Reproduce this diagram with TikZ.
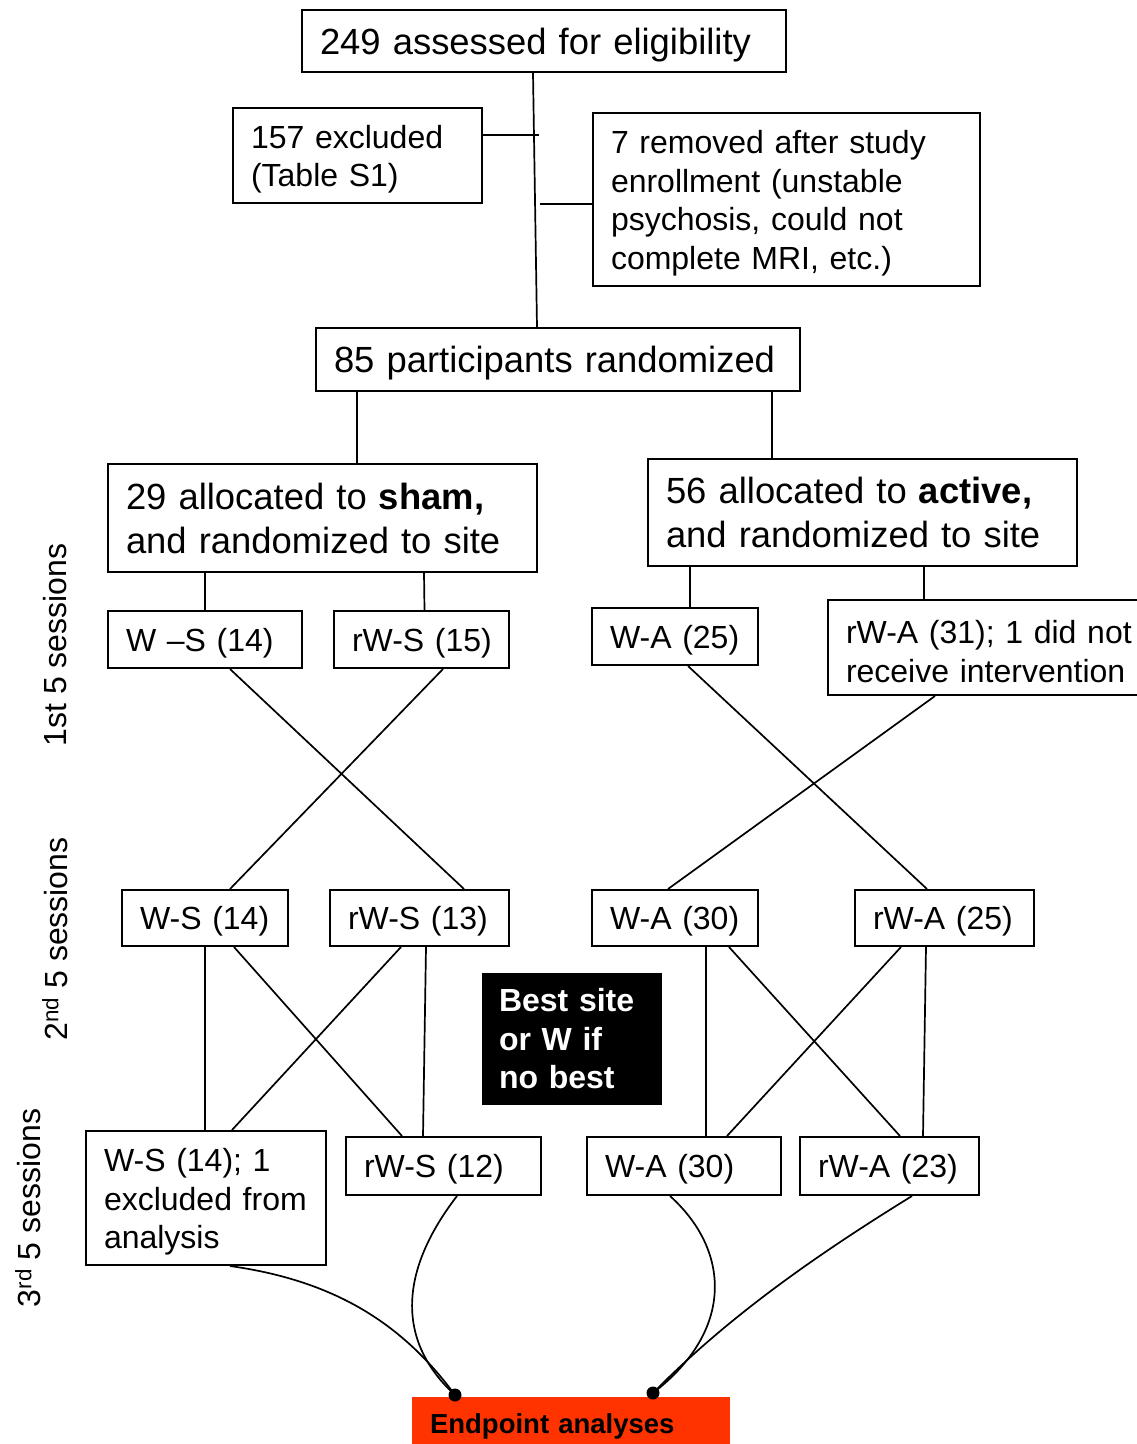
\documentclass[tikz,border=0pt]{standalone}
\usepackage{fontspec}
\setmainfont{Liberation Sans}
\usetikzlibrary{calc}
\definecolor{endred}{HTML}{FF3300}
\newcommand{\topstrut}{\rule{0pt}{31pt}}
\tikzset{
  box/.style={draw=black, line width=2pt, inner ysep=0pt, align=left},
  sline/.style={text depth=0pt},
  bigtxt/.style={font=\fontsize{36.4}{44}\selectfont},
  medtxt/.style={font=\fontsize{32}{38.5}\selectfont},
  link/.style={line width=1.7pt},
  enddot/.style={circle, fill=black, inner sep=0pt, minimum size=13pt},
  sidelabel/.style={rotate=90, font=\fontsize{32}{38}\selectfont, inner sep=0pt},
}
\begin{document}
\begin{tikzpicture}[x=1pt, y=-1pt]
\useasboundingbox (0,0) rectangle (1136,1444);

% top part
\node[box,sline,bigtxt,minimum height=62pt,inner xsep=18pt,text width=448pt] (A) at (544,41) {\mbox{249 assessed for eligibility}};
\node[box,medtxt,minimum height=95pt,inner xsep=18pt,text width=213pt] (B) at (357.5,155.5) {\mbox{\topstrut 157 excluded}\\\mbox{(Table S1)}};
\node[box,medtxt,minimum height=173pt,inner xsep=18pt,text width=351pt] (C) at (786.5,199.5) {\mbox{\topstrut 7 removed after study}\\\mbox{enrollment (unstable}\\\mbox{psychosis, could not}\\\mbox{complete MRI, etc.)}};
\node[box,sline,bigtxt,minimum height=63pt,inner xsep=18pt,text width=448pt] (D) at (558,359.5) {\mbox{85 participants randomized}};

% allocation
\node[box,bigtxt,minimum height=108pt,inner xsep=18pt,text width=393pt] (E) at (322.5,518) {\mbox{29 allocated to \textbf{sham,}}\\\mbox{and randomized to site}};
\node[box,bigtxt,minimum height=107pt,inner xsep=18pt,text width=393pt] (F) at (862.5,512.5) {\mbox{56 allocated to \textbf{active,}}\\\mbox{and randomized to site}};

% first 5 sessions
\node[box,sline,medtxt,minimum height=57pt,inner xsep=18pt,text width=158pt] (G) at (205,639.5) {\mbox{W --S (14)}};
\node[box,sline,medtxt,minimum height=57pt,inner xsep=18pt,text width=139pt] (H) at (421.5,639.5) {\mbox{rW-S (15)}};
\node[box,sline,medtxt,minimum height=57pt,inner xsep=18pt,text width=130pt] (I) at (675,636.5) {\mbox{W-A (25)}};
\node[box,medtxt,minimum height=95pt,inner xsep=18pt,text width=282pt] (J) at (987,647.5) {\mbox{\topstrut rW-A (31); 1 did not}\\\mbox{receive intervention}};

% second 5 sessions
\node[box,sline,medtxt,minimum height=56pt,inner xsep=18pt,text width=130pt] (K) at (205,918) {\mbox{W-S (14)}};
\node[box,sline,medtxt,minimum height=56pt,inner xsep=18pt,text width=143pt] (L) at (419.5,918) {\mbox{rW-S (13)}};
\node[box,sline,medtxt,minimum height=56pt,inner xsep=18pt,text width=130pt] (M) at (675,918) {\mbox{W-A (30)}};
\node[box,sline,medtxt,minimum height=56pt,inner xsep=18pt,text width=143pt] (N) at (944.5,918) {\mbox{rW-A (25)}};

% best site box
\node[fill=black,text=white,font={\fontsize{32}{38.5}\selectfont\bfseries},minimum height=132pt,inner xsep=17pt,inner ysep=0pt,text width=146pt,align=left] (S) at (572,1039) {\mbox{Best site}\\\mbox{or W if}\\\mbox{no best}};

% third 5 sessions
\node[box,medtxt,minimum height=134pt,inner xsep=18pt,text width=204pt] (O) at (206,1198) {\mbox{\topstrut W-S (14); 1}\\\mbox{excluded from}\\\mbox{analysis}};
\node[box,sline,medtxt,minimum height=58pt,inner xsep=18pt,text width=159pt] (P) at (443.5,1166) {\mbox{rW-S (12)}};
\node[box,sline,medtxt,minimum height=58pt,inner xsep=18pt,text width=158pt] (Q) at (684,1166) {\mbox{W-A (30)}};
\node[box,sline,medtxt,minimum height=58pt,inner xsep=18pt,text width=143pt] (R) at (889.5,1166) {\mbox{rW-A (23)}};

% endpoint
\node[fill=endred,sline,font={\fontsize{27.5}{33}\selectfont\bfseries},minimum height=54pt,inner xsep=18pt,inner ysep=0pt,text width=282pt,align=left] (T) at (571,1424) {\mbox{Endpoint analyses}};
\node[enddot] (e1) at (455,1395) {};
\node[enddot] (e2) at (653,1393) {};

% side labels
\node[sidelabel] (s1) at (55,645) {1st 5 sessions};
\node[sidelabel] (s2) at (55,939) {2\textsuperscript{nd} 5 sessions};
\node[sidelabel] (s3) at (28,1208) {3\textsuperscript{rd} 5 sessions};

% connectors top
\draw[link] ([xshift=-11pt]A.south) -- ([xshift=-21pt]D.north);
\draw[link] ([yshift=20.5pt]B.east) -- ++(56,0);
\draw[link] ([yshift=-4.5pt]C.west) -- ++(-52,0);
\draw[link] ([xshift=-201pt]D.south) -- ([xshift=-201pt]D.south |- E.north);
\draw[link] ([xshift=214pt]D.south) -- ([xshift=214pt]D.south |- F.north);

% allocation to first sessions
\draw[link] (E.south -| G.north) -- (G.north);
\draw[link] ([xshift=2.5pt]E.south -| H.north) -- ([xshift=3pt]H.north);
\draw[link] ([xshift=15pt]I.north |- F.south) -- ([xshift=15pt]I.north);
\draw[link] ([xshift=-63pt]J.north |- F.south) -- ([xshift=-63pt]J.north);

% first -> second
\draw[link] ([xshift=25pt]G.south) -- ([xshift=44.5pt]L.north);
\draw[link] ([xshift=21.5pt]H.south) -- ([xshift=25pt]K.north);
\draw[link] ([xshift=13pt]I.south) -- ([xshift=-17.5pt]N.north);
\draw[link] ([xshift=-52pt]J.south) -- ([xshift=-7pt]M.north);

% second -> third
\draw[link] (K.south) -- ([xshift=-1pt]O.north);
\draw[link] ([xshift=29pt]K.south) -- ([xshift=-41.5pt]P.north);
\draw[link] ([xshift=-18.5pt]L.south) -- ([xshift=26pt]O.north);
\draw[link] ([xshift=6.5pt]L.south) -- ([xshift=-20.5pt]P.north);
\draw[link] ([xshift=31pt]M.south) -- ([xshift=22pt]Q.north);
\draw[link] ([xshift=54pt]M.south) -- ([xshift=10.5pt]R.north);
\draw[link] ([xshift=-43.5pt]N.south) -- ([xshift=43pt]Q.north);
\draw[link] ([xshift=-18.5pt]N.south) -- ([xshift=33.5pt]R.north);

% third -> endpoint
\draw[link] ([xshift=24pt]O.south) .. controls (330,1280) and (400,1320) .. (e1.center);
\draw[link] ([xshift=13.5pt]P.south) .. controls (400,1270) and (395,1340) .. (e1.center);
\draw[link] ([xshift=-14pt]Q.south) .. controls (730,1250) and (735,1330) .. (e2.center);
\draw[link] ([xshift=22.5pt]R.south) .. controls (800,1265) and (720,1325) .. (e2.center);
\end{tikzpicture}
\end{document}
